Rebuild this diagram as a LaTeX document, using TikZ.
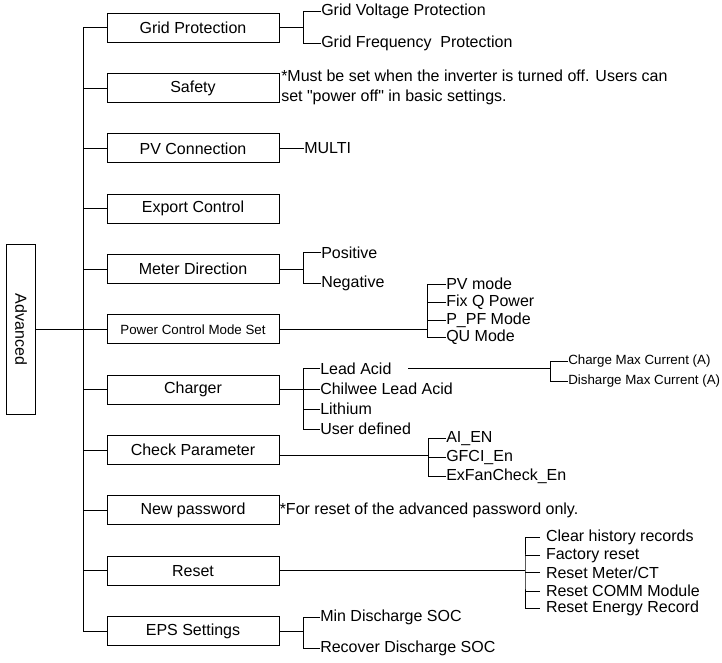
\documentclass[tikz,border=0pt]{standalone}
\usepackage{fontspec}
\setmainfont{Liberation Sans}[Ligatures=TeXOff]
\usetikzlibrary{positioning}

\begin{document}
\begin{tikzpicture}[x=0.75pt, y=-0.75pt,
    menu/.style={draw, line width=0.6pt, minimum width=129pt,
                 minimum height=21.75pt, inner sep=0pt,
                 font=\fontsize{12}{14}\selectfont},
    leaf/.style={anchor=west, inner sep=0pt,
                 font=\fontsize{12}{14}\selectfont},
    smallleaf/.style={leaf, font=\fontsize{10}{12}\selectfont},
    wire/.style={line width=0.6pt}
  ]
  \useasboundingbox (0,0) rectangle (722,662);

  % menu column
  \node[menu] (grid) at (193,27.7) {Grid Protection};
  \node[menu, below=22.9pt of grid] (safety) {Safety};
  \node[menu, below=22.9pt of safety] (pv) {PV Connection};
  \node[menu, below=22.9pt of pv] (export) {Export Control};
  \node[menu, below=22.9pt of export] (meter) {Meter Direction};
  \node[menu, below=22.9pt of meter, font=\fontsize{10}{12}\selectfont] (pcm)
    {Power Control Mode Set};
  \node[menu, below=22.9pt of pcm] (charger) {Charger};
  \node[menu, below=22.9pt of charger] (check) {Check Parameter};
  \node[menu, below=22.9pt of check] (newpw) {New password};
  \node[menu, below=22.9pt of newpw] (reset) {Reset};
  \node[menu, below=22.9pt of reset] (eps) {EPS Settings};

  % root
  \node[menu, minimum width=127.5pt, rotate=-90] (adv) at (21,0 |- pcm) {Advanced};
  \draw[wire] (adv.north) -- (pcm.west);

  % trunk
  \draw[wire] (grid.west) -- ++(-23.7,0) coordinate (trunk) |- (eps.west);
  \foreach \b in {safety,pv,export,meter,charger,check,newpw,reset}
    \draw[wire] (\b.west) -- (\b.west -| trunk);

  % grid protection
  \node[leaf] (gvp) at (321,11) {Grid Voltage Protection};
  \node[leaf] (gfp) at (321,43.5) {Grid Frequency\ \ Protection};
  \coordinate (gpj) at (303.3,0 |- grid);
  \draw[wire] (grid.east) -- (gpj);
  \draw[wire] (gvp.west) -| (gpj) |- (gfp.west);

  % safety note
  \node[leaf, align=left, font=\fontsize{12}{15.4}\selectfont] (safenote) at (281,87.3)
    {*Must be set when the inverter is turned off. Users can\\set "power off" in basic settings.};

  % pv connection
  \node[leaf] (multi) at (304,0 |- pv) {MULTI};
  \draw[wire] (pv.east) -- (multi.west);

  % meter direction
  \node[leaf] (pos) at (321,252.5) {Positive};
  \node[leaf] (neg) at (321,283.5) {Negative};
  \coordinate (mdj) at (303.3,0 |- meter);
  \draw[wire] (meter.east) -- (mdj);
  \draw[wire] (pos.west) -| (mdj) |- (neg.west);

  % power control mode
  \node[leaf] (pvmode) at (446,284) {PV mode};
  \node[leaf] (fixq) at (446,302) {Fix Q Power};
  \node[leaf] (ppf) at (446,320) {P\_PF Mode};
  \node[leaf] (qu) at (446,337.5) {QU Mode};
  \coordinate (pcj) at (427.7,0 |- pcm);
  \draw[wire] (pcm.east) -- (pcj);
  \draw[wire] (pvmode.west) -| (pcj) |- (qu.west);
  \foreach \n in {fixq,ppf}
    \draw[wire] (\n.west) -- (\n.west -| pcj);

  % charger
  \node[leaf] (leadacid) at (320,368.5) {Lead Acid};
  \node[leaf] (chilwee) at (320,389) {Chilwee Lead Acid};
  \node[leaf] (lithium) at (320,409) {Lithium};
  \node[leaf] (userdef) at (320,429) {User defined};
  \coordinate (chj) at (303.3,0 |- charger);
  \draw[wire] (charger.east) -- (chj);
  \draw[wire] (leadacid.west) -| (chj) |- (userdef.west);
  \foreach \n in {chilwee,lithium}
    \draw[wire] (\n.west) -- (\n.west -| chj);

  % lead acid currents
  \node[smallleaf] (cmax) at (568,361) {Charge Max Current (A)};
  \node[smallleaf] (dmax) at (568,381) {Disharge Max Current (A)};
  \coordinate (laj) at (550.7,0 |- leadacid);
  \draw[wire] ([xshift=12.5pt]leadacid.east) -- (laj);
  \draw[wire] (cmax.west) -| (laj) |- (dmax.west);

  % check parameter
  \node[leaf] (aien) at (446,438.5) {AI\_EN};
  \node[leaf] (gfci) at (446,457) {GFCI\_En};
  \node[leaf] (exfan) at (446,476.5) {ExFanCheck\_En};
  \draw[wire] ([yshift=-4pt]check.east) -- ++(148.7,0) coordinate (cpj);
  \draw[wire] (aien.west) -| (cpj) |- (exfan.west);
  \draw[wire] (gfci.west) -- (gfci.west -| cpj);

  % new password note
  \node[leaf] (pwnote) at (279.5,0 |- newpw) {*For reset of the advanced password only.};

  % reset
  \node[leaf, inner xsep=4.3pt] (clrhist) at (540,537.7) {Clear history records};
  \node[leaf, inner xsep=4.3pt] (factory) at (540,555.7) {Factory reset};
  \node[leaf, inner xsep=4.3pt] (rstmeter) at (540,572.7) {Reset Meter/CT};
  \node[leaf, inner xsep=4.3pt] (rstcomm) at (540,591.2) {Reset COMM Module};
  \node[leaf, inner xsep=4.3pt] (rstenergy) at (540,608.3) {Reset Energy Record};
  \coordinate (rsj) at (525,0 |- reset);
  \draw[wire] (reset.east) -- (rsj);
  \draw[wire] (clrhist.west) -| (rsj) |- (rstenergy.west);
  \foreach \n in {factory,rstmeter,rstcomm}
    \draw[wire] (\n.west) -- (\n.west -| rsj);

  % eps settings
  \node[leaf] (minsoc) at (320,617.5) {Min Discharge SOC};
  \node[leaf] (recsoc) at (320,648.5) {Recover Discharge SOC};
  \coordinate (epj) at (303.3,0 |- eps);
  \draw[wire] (eps.east) -- (epj);
  \draw[wire] (minsoc.west) -| (epj) |- (recsoc.west);
\end{tikzpicture}
\end{document}
